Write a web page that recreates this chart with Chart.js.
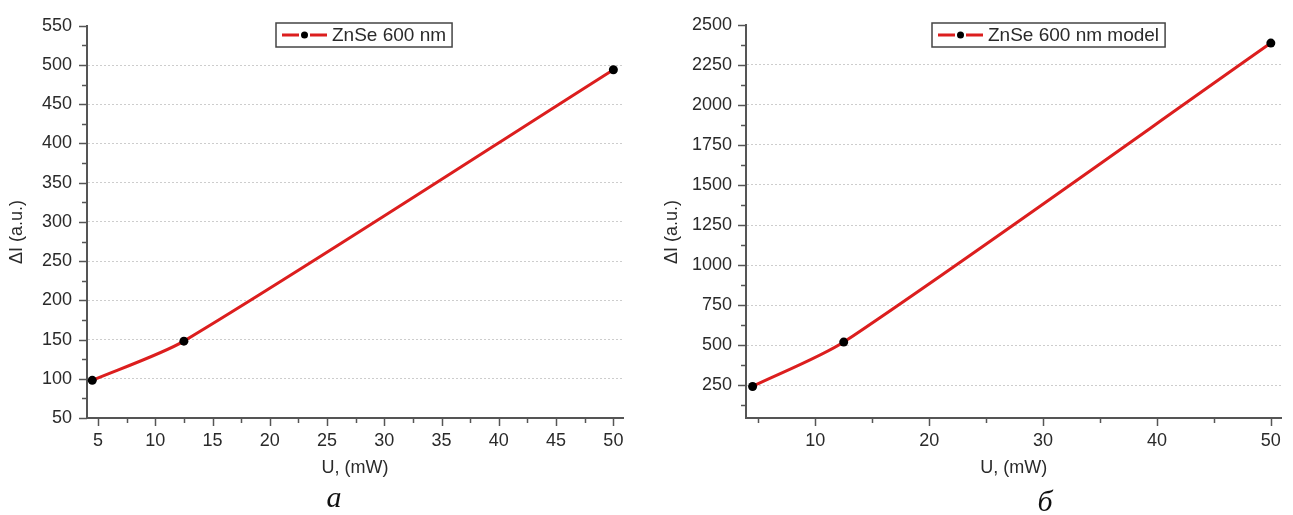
<!DOCTYPE html>
<html lang="ru">
<head>
<meta charset="utf-8">
<title>ZnSe 600 nm</title>
<script src="https://cdn.jsdelivr.net/npm/chart.js@4"></script>
<style>
  html, body { margin: 0; padding: 0; background: #fff; }
  body { position: relative; width: 1293px; height: 515px; overflow: hidden; }
  canvas { position: absolute; top: 0; }
  #chartA { left: 0; }
  #chartB { left: 646px; }
  .tag {
    position: absolute;
    transform: translateX(-50%);
    font: italic 30px "Liberation Serif", "Times New Roman", serif;
    line-height: 1;
    color: #111;
  }
  #tagA { left: 334px; top: 482px; }
  #tagB { left: 1045px; top: 486px; }
</style>
</head>
<body>
<canvas id="chartA" width="646" height="515"></canvas>
<canvas id="chartB" width="647" height="515"></canvas>
<div class="tag" id="tagA">а</div>
<div class="tag" id="tagB">б</div>
<script>
"use strict";

const $ = (id) => document.getElementById(id);

// panel а: measured
const powerA = [4.5, 12.5, 50];
const signalA = [98, 148, 494];
const xTicksA = [5, 10, 15, 20, 25, 30, 35, 40, 45, 50];
const yTicksA = [50, 100, 150, 200, 250, 300, 350, 400, 450, 500, 550];
const xRangeA = [4.04, 50.84];
const yRangeA = [50, 550];

// panel б: model
const powerB = [4.5, 12.5, 50];
const signalB = [242, 519, 2386];
const xTicksB = [10, 20, 30, 40, 50];
const yTicksB = [250, 500, 750, 1000, 1250, 1500, 1750, 2000, 2250, 2500];
const xRangeB = [3.92, 50.93];
const yRangeB = [45, 2500];

const FONT = '"Liberation Sans", Arial, sans-serif';
const AXIS = "#555";
const INK = "#2a2a2a";

// major + minor tick marks, drawn outward from the axis lines
const tickMarks = {
  id: "tickMarks",
  afterDraw(chart) {
    const ctx = chart.ctx;
    ctx.save();
    ctx.strokeStyle = AXIS;
    ctx.lineWidth = 1.5;
    for (const scale of Object.values(chart.scales)) {
      const majors = scale.ticks.map((t) => t.value);
      const half = (majors[1] - majors[0]) / 2;
      const marks = majors.map((v) => [v, 8]);
      majors.forEach((v) => {
        if (v - half >= scale.min) marks.push([v - half, 5]);
      });
      for (const [v, len] of marks) {
        const p = Math.round(scale.getPixelForValue(v)) + 0.5;
        ctx.beginPath();
        if (scale.isHorizontal()) {
          ctx.moveTo(p, scale.top);
          ctx.lineTo(p, scale.top + len);
        } else {
          ctx.moveTo(scale.right, p);
          ctx.lineTo(scale.right - len, p);
        }
        ctx.stroke();
      }
    }
    ctx.restore();
  },
};

// rotated y title, placed a bit below the axis middle
const sideTitle = {
  id: "sideTitle",
  afterDraw(chart, args, opts) {
    const ctx = chart.ctx;
    ctx.save();
    ctx.translate(opts.x, opts.y);
    ctx.rotate(-Math.PI / 2);
    ctx.font = `18px ${FONT}`;
    ctx.fillStyle = INK;
    ctx.textAlign = "center";
    ctx.textBaseline = "middle";
    ctx.fillText(opts.text, 0, 0);
    ctx.restore();
  },
};

// framed legend: red line, black dot, red line, label
const boxLegend = {
  id: "boxLegend",
  afterDraw(chart, args, opts) {
    const ds = chart.data.datasets[0];
    const ctx = chart.ctx;
    const x = chart.chartArea.left + opts.left;
    const y = opts.top;
    const h = 24;
    ctx.save();
    ctx.font = `19px ${FONT}`;
    const w = 56 + ctx.measureText(ds.label).width + 6;
    ctx.fillStyle = "#fff";
    ctx.fillRect(x, y, w, h);
    ctx.strokeStyle = "#444";
    ctx.lineWidth = 1.5;
    ctx.strokeRect(x, y, w, h);
    const cy = y + h / 2;
    ctx.strokeStyle = ds.borderColor;
    ctx.lineWidth = 3;
    ctx.beginPath();
    ctx.moveTo(x + 6, cy);
    ctx.lineTo(x + 23, cy);
    ctx.moveTo(x + 34, cy);
    ctx.lineTo(x + 51, cy);
    ctx.stroke();
    ctx.fillStyle = ds.pointBackgroundColor;
    ctx.beginPath();
    ctx.arc(x + 28.5, cy, 3.5, 0, Math.PI * 2);
    ctx.fill();
    ctx.fillStyle = INK;
    ctx.textBaseline = "middle";
    ctx.fillText(ds.label, x + 56, cy + 1);
    ctx.restore();
  },
};

function panel(canvas, cfg) {
  const font = { family: FONT, size: 18 };
  return new Chart(canvas, {
    type: "line",
    data: {
      datasets: [
        {
          label: cfg.label,
          data: cfg.x.map((x, i) => ({ x, y: cfg.y[i] })),
          borderColor: "#dc1e1e",
          borderWidth: 3,
          pointRadius: 4.5,
          pointBackgroundColor: "#000",
          pointBorderWidth: 0,
          tension: 0.25,
        },
      ],
    },
    plugins: [tickMarks, sideTitle, boxLegend],
    options: {
      responsive: false,
      animation: false,
      layout: { padding: { top: 20, right: cfg.padRight, bottom: 0, left: 0 } },
      plugins: {
        legend: { display: false },
        tooltip: { enabled: false },
        sideTitle: { text: "ΔI (a.u.)", x: cfg.titleX, y: 232 },
        boxLegend: { left: cfg.legendLeft, top: 23 },
      },
      scales: {
        x: {
          type: "linear",
          min: cfg.xRange[0],
          max: cfg.xRange[1],
          afterBuildTicks: (s) => {
            s.ticks = cfg.xTicks.map((value) => ({ value }));
          },
          afterFit: (s) => {
            s.height = 97;
          },
          grid: { display: false, drawTicks: false },
          border: { color: AXIS, width: 2 },
          ticks: {
            autoSkip: false,
            maxRotation: 0,
            padding: 12,
            color: INK,
            font,
            callback: (v) => String(v),
          },
          title: {
            display: true,
            text: "U, (mW)",
            color: INK,
            font,
            padding: { top: 0, bottom: 36 },
          },
        },
        y: {
          type: "linear",
          min: cfg.yRange[0],
          max: cfg.yRange[1],
          afterBuildTicks: (s) => {
            s.ticks = cfg.yTicks.map((value) => ({ value }));
          },
          afterFit: (s) => {
            s.width = cfg.axisWidth;
          },
          grid: {
            drawTicks: false,
            lineWidth: 1,
            color: (c) =>
              c.tick && c.tick.value > cfg.yRange[0] && c.tick.value < cfg.yRange[1]
                ? "#cdcdcd"
                : "transparent",
          },
          border: { color: AXIS, width: 2, dash: [2, 2] },
          ticks: {
            autoSkip: false,
            padding: cfg.labelGap,
            color: INK,
            font,
            callback: (v) => String(v),
          },
        },
      },
    },
  });
}

panel($("chartA"), {
  label: "ZnSe 600 nm",
  x: powerA,
  y: signalA,
  xTicks: xTicksA,
  yTicks: yTicksA,
  xRange: xRangeA,
  yRange: yRangeA,
  axisWidth: 87,
  padRight: 23,
  labelGap: 15,
  titleX: 17,
  legendLeft: 189,
});

panel($("chartB"), {
  label: "ZnSe 600 nm model",
  x: powerB,
  y: signalB,
  xTicks: xTicksB,
  yTicks: yTicksB,
  xRange: xRangeB,
  yRange: yRangeB,
  axisWidth: 100,
  padRight: 8,
  labelGap: 14,
  titleX: 26,
  legendLeft: 186,
});
</script>
</body>
</html>
